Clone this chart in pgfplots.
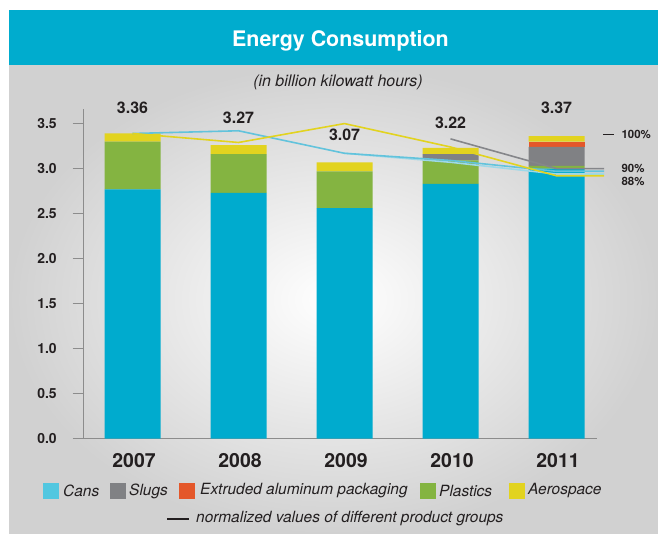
\documentclass[border=0pt]{standalone}
\usepackage{pgfplots}
\pgfplotsset{compat=1.18}
\usepackage{fontspec}
\setmainfont{TeX Gyre Heros}

\definecolor{header}{HTML}{00ACCE}
\definecolor{cans}{HTML}{00ABCE}
\definecolor{cansleg}{HTML}{52C7E0}
\definecolor{slugs}{HTML}{808184}
\definecolor{extruded}{HTML}{E4572A}
\definecolor{plastics}{HTML}{84B441}
\definecolor{aero}{HTML}{E2D31F}
\definecolor{linecyan}{HTML}{62C3DC}
\definecolor{linecyanb}{HTML}{9ED8E8}
\definecolor{linegray}{HTML}{85868A}
\definecolor{axisgray}{HTML}{8C8C8C}
\definecolor{ink}{HTML}{231F20}

\begin{document}
\begin{tikzpicture}[x=1bp,y=1bp]
\useasboundingbox (0,0) rectangle (658,534);
\fill[white] (0,0) rectangle (658,534);
% panel
\shade[inner color=white, outer color=black!18] (9,0) rectangle (658,469);
\fill[header] (9,469) rectangle (658,524);
\node[anchor=base, text=white, font=\bfseries\fontsize{21.5}{26}\selectfont] at (340.5,487.5) {Energy Consumption};
\node[anchor=base, text=ink, font=\itshape\fontsize{16}{19}\selectfont] at (338,447) {(in billion kilowatt hours)};

\pgfplotsset{
  base/.style={
    at={(79,106)}, anchor=south west,
    x=106bp, y=90bp,
    xmin=-0.46, xmax=4.38, ymin=0, ymax=3.66,
    scale only axis,
  },
}

\begin{axis}[
  base,
  ybar stacked,
  bar width=56bp,
  axis x line*=bottom, axis y line*=left,
  axis line style={axisgray, line width=1pt},
  xtick={0,1,2,3,4},
  xticklabels={2007,2008,2009,2010,2011},
  x tick style={draw=none},
  xticklabel style={font=\bfseries\fontsize{19.5}{22}\selectfont, text=ink, yshift=-0.5bp, xshift=1.5bp},
  ytick={0,0.5,1,1.5,2,2.5,3,3.5},
  y tick style={axisgray, line width=1pt},
  tick align=outside,
  major tick length=11bp,
  yticklabel style={font=\bfseries\fontsize{14}{16}\selectfont, text=ink, xshift=-12.5bp},
  /pgf/number format/assume math mode=true,
  yticklabel={\pgfmathprintnumber[fixed, fixed zerofill, precision=1]{\tick}},
  every axis plot/.append style={draw=none},
]
\addplot[fill=cans] coordinates {(0,2.77) (1,2.73) (2,2.56) (3,2.83) (4,3.00)};
\addplot[fill=plastics] coordinates {(0,0.53) (1,0.43) (2,0.41) (3,0.26) (4,0.03)};
\addplot[fill=slugs] coordinates {(0,0) (1,0) (2,0) (3,0.07) (4,0.21)};
\addplot[fill=extruded] coordinates {(0,0) (1,0) (2,0) (3,0) (4,0.06)};
\addplot[fill=aero] coordinates {(0,0.09) (1,0.10) (2,0.10) (3,0.07) (4,0.06)};
\end{axis}

\begin{axis}[
  base,
  hide axis,
  clip=false,
]
\addplot[linecyanb, line width=1.6pt] coordinates {(2,3.17) (3,3.07) (4,2.94) (4.45,2.94)};
\addplot[linecyan, line width=1.6pt] coordinates {(0,3.39) (1,3.42) (2,3.17) (3,3.09) (4,2.97) (4.45,2.97)};
\addplot[linegray, line width=1.6pt] coordinates {(3,3.33) (4,3.00) (4.45,3.00)};
\addplot[aero, line width=1.6pt] coordinates {(0,3.39) (1,3.29) (2,3.50) (3,3.24) (4,2.92) (4.45,2.92)};

\begin{scope}[font=\bfseries\fontsize{16}{18}\selectfont, text=ink]
\node at (axis cs:0,3.67) {3.36};
\node at (axis cs:1,3.56) {3.27};
\node at (axis cs:2,3.37) {3.07};
\node at (axis cs:3,3.51) {3.22};
\node at (axis cs:4,3.67) {3.37};
\end{scope}
\draw[ink, line width=1.6pt] (axis cs:4.44,3.38) -- (axis cs:4.54,3.38);
\begin{scope}[font=\bfseries\fontsize{11.5}{14}\selectfont, text=ink]
\node[anchor=west] at (axis cs:4.58,3.38) {100\%};
\node[anchor=west] at (axis cs:4.58,3.00) {90\%};
\node[anchor=west] at (axis cs:4.58,2.86) {88\%};
\end{scope}
\end{axis}

% legend
\begin{scope}[font=\itshape\fontsize{15.5}{18}\selectfont, text=ink]
\fill[cansleg] (43,35) rectangle (59,51);
\node[anchor=west, inner sep=0pt] at (63,43) {Cans};
\fill[slugs] (110,35) rectangle (126,51);
\node[anchor=west, inner sep=0pt] at (129,43) {Slugs};
\fill[extruded] (179,35) rectangle (195,51);
\node[anchor=west, inner sep=0pt] at (200,43) {Extruded aluminum packaging};
\fill[plastics] (419.5,35) rectangle (435.5,51);
\node[anchor=west, inner sep=0pt] at (439,43) {Plastics};
\fill[aero] (508.5,35) rectangle (524.5,51);
\node[anchor=west, inner sep=0pt] at (528,43) {Aerospace};
\draw[ink, line width=1.6pt] (167,15) -- (189,15);
\node[anchor=west, inner sep=0pt] at (196,15) {normalized values of different product groups};
\end{scope}
\end{tikzpicture}
\end{document}
